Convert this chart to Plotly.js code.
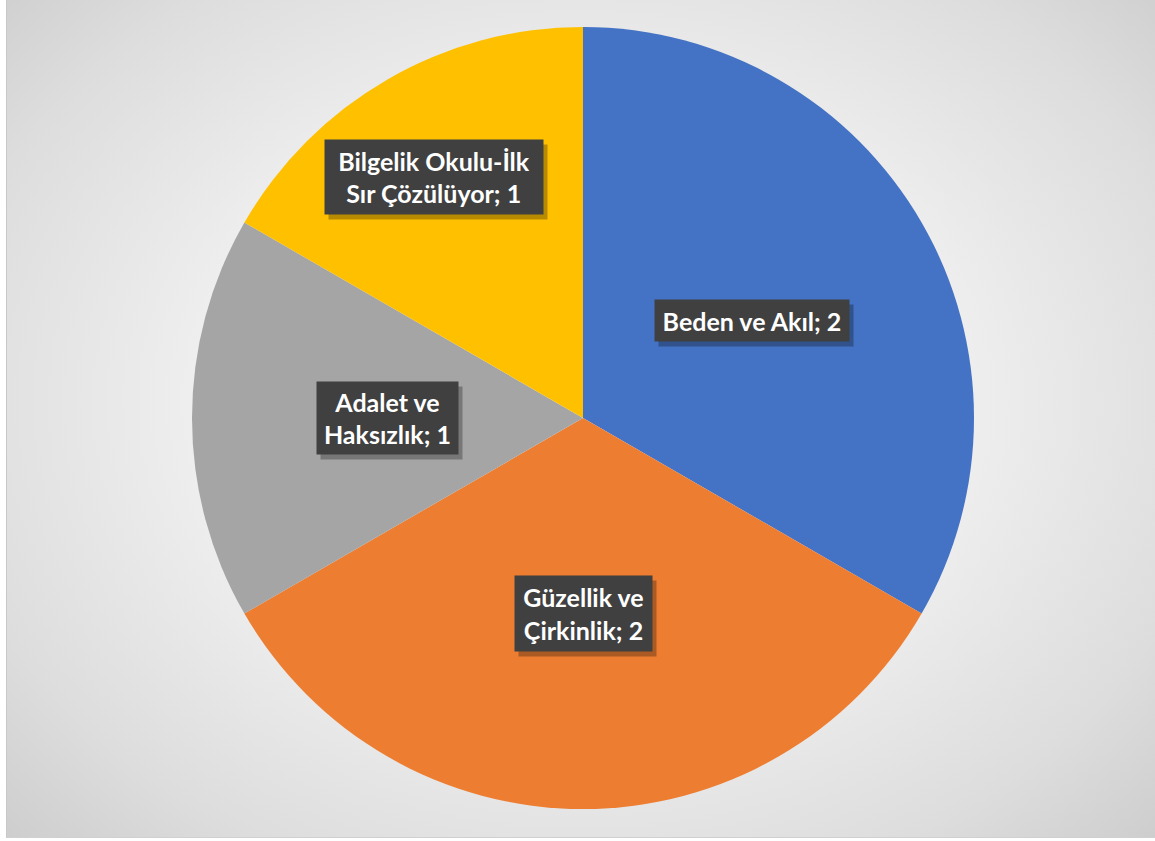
<!DOCTYPE html>
<html>
<head>
<meta charset="utf-8">
<script src="https://cdn.plot.ly/plotly-3.0.1.min.js"></script>
<style>
  html, body { margin: 0; padding: 0; background: #ffffff; }
  #frame {
    position: absolute; left: 6px; top: 0; width: 1149px; height: 838px;
    border-left: 1px solid #c8c8c8; border-bottom: 1px solid #d0d0d0;
    box-sizing: border-box;
    background: radial-gradient(ellipse 75% 80% at 50% 48%, #ffffff 0%, #f4f4f4 35%, #dddddd 75%, #c8c8c8 100%);
  }
  #chart { position: absolute; left: 0; top: 0; width: 1155px; height: 841px; }
</style>
</head>
<body>
<div id="frame"></div>
<div id="chart"></div>
<script>
const labels = ["Beden ve Akıl", "Güzellik ve Çirkinlik", "Adalet ve Haksızlık", "Bilgelik Okulu-İlk Sır Çözülüyor"];
const values = [2, 2, 1, 1];
const colors = ["#4472C4", "#ED7D31", "#A5A5A5", "#FFC000"];
const labelText = ["Beden ve Akıl; 2", "Güzellik ve<br>Çirkinlik; 2", "Adalet ve<br>Haksızlık; 1", "Bilgelik Okulu-İlk<br>Sır Çözülüyor; 1"];
const labelRadius = [0.50, 0.50, 0.50, 0.726];
const labelAngleShift = [0, 0, 0, -0.03];
const boxW = [194, 137, 141, 218];
const boxH = [41, 75, 72, 74];

const W = 1155, H = 841;
const cxPx = 583, cyPx = 418, R = 391;
const domX = [(cxPx - R) / W, (cxPx + R) / W];
const domY = [(H - cyPx - R) / H, (H - cyPx + R) / H];
const cx = (domX[0] + domX[1]) / 2, cy = (domY[0] + domY[1]) / 2;

const total = values.reduce((a, b) => a + b, 0);
const annotations = [];
let cum = 0;
const boxes = [];
values.forEach((v, i) => {
  const mid = (cum + v / 2) / total * 2 * Math.PI + labelAngleShift[i];
  cum += v;
  const d = labelRadius[i] * R;
  const x = cx + d * Math.sin(mid) / W;
  const y = cy + d * Math.cos(mid) / H;
  boxes.push({x, y, t: labelText[i], w: boxW[i], h: boxH[i]});
});
const fontBase = {family: "Lato, 'Open Sans', sans-serif", size: 25};
boxes.forEach(b => {
  annotations.push({
    x: b.x, y: b.y, xref: "paper", yref: "paper", showarrow: false,
    xanchor: "center", yanchor: "middle",
    text: " ", xshift: 4, yshift: -5, width: b.w, height: b.h,
    font: Object.assign({}, fontBase, {color: "rgba(0,0,0,0)"}),
    bgcolor: "rgba(0,0,0,0.28)", borderpad: 0
  });
});
boxes.forEach(b => {
  annotations.push({
    x: b.x, y: b.y, xref: "paper", yref: "paper", showarrow: false,
    xanchor: "center", yanchor: "middle",
    text: "<b>" + b.t + "</b>", width: b.w, height: b.h,
    font: Object.assign({}, fontBase, {color: "#ffffff"}),
    bgcolor: "#404040", borderpad: 0, align: "center", valign: "middle"
  });
});

const data = [{
  type: "pie",
  labels: labels,
  values: values,
  sort: false,
  direction: "clockwise",
  rotation: 0,
  marker: {colors: colors, line: {width: 0}},
  textinfo: "none",
  hoverinfo: "label+value",
  domain: {x: domX, y: domY},
  showlegend: false
}];

const layout = {
  width: W, height: H,
  margin: {l: 0, r: 0, t: 0, b: 0},
  paper_bgcolor: "rgba(0,0,0,0)",
  plot_bgcolor: "rgba(0,0,0,0)",
  showlegend: false,
  annotations: annotations
};

Plotly.newPlot("chart", data, layout, {displayModeBar: false, staticPlot: true});
</script>
</body>
</html>
